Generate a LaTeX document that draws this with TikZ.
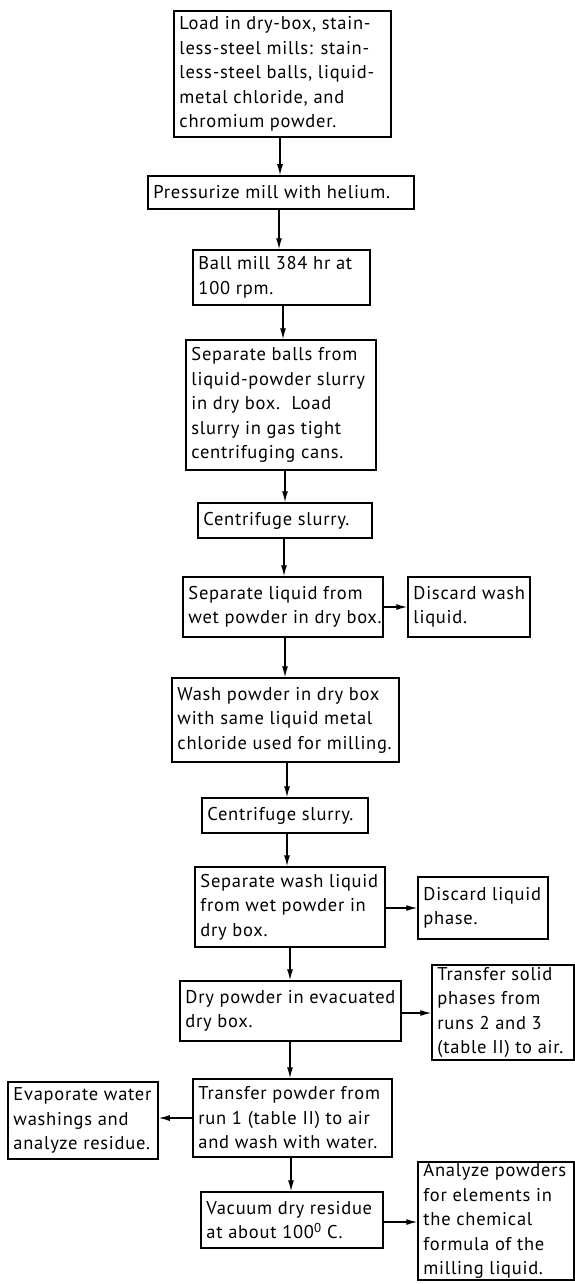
\documentclass[tikz,border=0pt]{standalone}
\usepackage{fontspec}
\setmainfont{PT Sans}[LetterSpace=4]
\usetikzlibrary{arrows.meta}
\tikzset{
  box/.style args={#1/#2}{draw, line width=1.5pt, inner sep=0pt,
    minimum width=#1pt, minimum height=#2pt, anchor=center},
  txt/.style={anchor=west, align=left, inner sep=6pt,
    font=\fontsize{18.5}{24.5}\selectfont},
  arr/.style={line width=1.3pt, -{Latex[length=11pt,width=6pt]}}
}
\begin{document}
\begin{tikzpicture}[x=1pt,y=-1pt]
\useasboundingbox (0,0) rectangle (575,1284);
\node[box=217/126, label={[txt]west:{Load in dry-box, stain-\\less-steel mills: stain-\\less-steel balls, liquid-\\metal chloride, and\\chromium powder.}}] (b1) at (282.5,74) {};
\node[box=266/33, label={[txt]west:{Pressurize mill with helium.}}] (b2) at (281,192.5) {};
\node[box=177/55, label={[txt]west:{Ball mill 384 hr at\\100 rpm.}}] (b3) at (281.5,277.5) {};
\node[box=190/130, label={[txt]west:{Separate balls from\\liquid-powder slurry\\in dry box.\ \ Load\\slurry in gas tight\\centrifuging cans.}}] (b4) at (281,405) {};
\node[box=174/35, label={[txt]west:{Centrifuge slurry.}}] (b5) at (285,520.5) {};
\node[box=200/60, label={[txt]west:{Separate liquid from\\wet powder in dry box.}}] (b6) at (283,607) {};
\node[box=122/60, label={[txt]west:{Discard wash\\liquid.}}] (b7) at (469,607) {};
\node[box=227/84, label={[txt]west:{Wash powder in dry box\\with same liquid metal\\chloride used for milling.}}] (b8) at (285.5,720) {};
\node[box=166/35, label={[txt]west:{Centrifuge slurry.}}] (b9) at (285,815.5) {};
\node[box=190/80, label={[txt]west:{Separate wash liquid\\from wet powder in\\dry box.}}] (b10) at (290,907) {};
\node[box=130/62, label={[txt]west:{Discard liquid\\phase.}}] (b11) at (483,908) {};
\node[box=221/60, label={[txt]west:{Dry powder in evacuated\\dry box.}}] (b12) at (290.5,1011) {};
\node[box=142/95, label={[txt]west:{Transfer solid\\phases from\\runs 2 and 3\\(table II) to air.}}] (b13) at (503,1012.5) {};
\node[box=199/78, label={[txt]west:{Transfer powder from\\run 1 (table II) to air\\and wash with water.}}] (b14) at (292.5,1118) {};
\node[box=150/77, label={[txt]west:{Evaporate water\\washings and\\analyze residue.}}] (b15) at (83,1120.5) {};
\node[box=182/56, label={[txt]west:{Vacuum dry residue\\at about 100\textsuperscript{0} C.}}] (b16) at (292,1220) {};
\node[box=156/118, label={[txt]west:{Analyze powders\\for elements in\\the chemical\\formula of the\\milling liquid.}}] (b17) at (496,1221) {};
% vertical connectors
\draw[arr] (b1.south -| 280,0) -- (b2.north -| 280,0);
\draw[arr] (b2.south -| 279,0) -- (b3.north -| 279,0);
\draw[arr] (b3.south -| 283,0) -- (b4.north -| 283,0);
\draw[arr] (b4.south -| 285,0) -- (b5.north -| 285,0);
\draw[arr] (b5.south -| 284,0) -- (b6.north -| 284,0);
\draw[arr] (b6.south -| 285,0) -- (b8.north -| 285,0);
\draw[arr] (b8.south -| 287,0) -- (b9.north -| 287,0);
\draw[arr] (b9.south -| 287,0) -- (b10.north -| 287,0);
\draw[arr] (b10.south -| 290,0) -- (b12.north -| 290,0);
\draw[arr] (b12.south -| 290,0) -- (b14.north -| 290,0);
\draw[arr] (b14.south -| 291,0) -- (b16.north -| 291,0);
% horizontal connectors
\draw[arr] (b6.east |- 0,607) -- (b7.west |- 0,607);
\draw[arr] (b10.east |- 0,908) -- (b11.west |- 0,908);
\draw[arr] (b12.east |- 0,1013) -- (b13.west |- 0,1013);
\draw[arr] (b14.west |- 0,1118) -- (b15.east |- 0,1118);
\draw[arr] (b16.east |- 0,1222) -- (b17.west |- 0,1222);
\end{tikzpicture}
\end{document}
